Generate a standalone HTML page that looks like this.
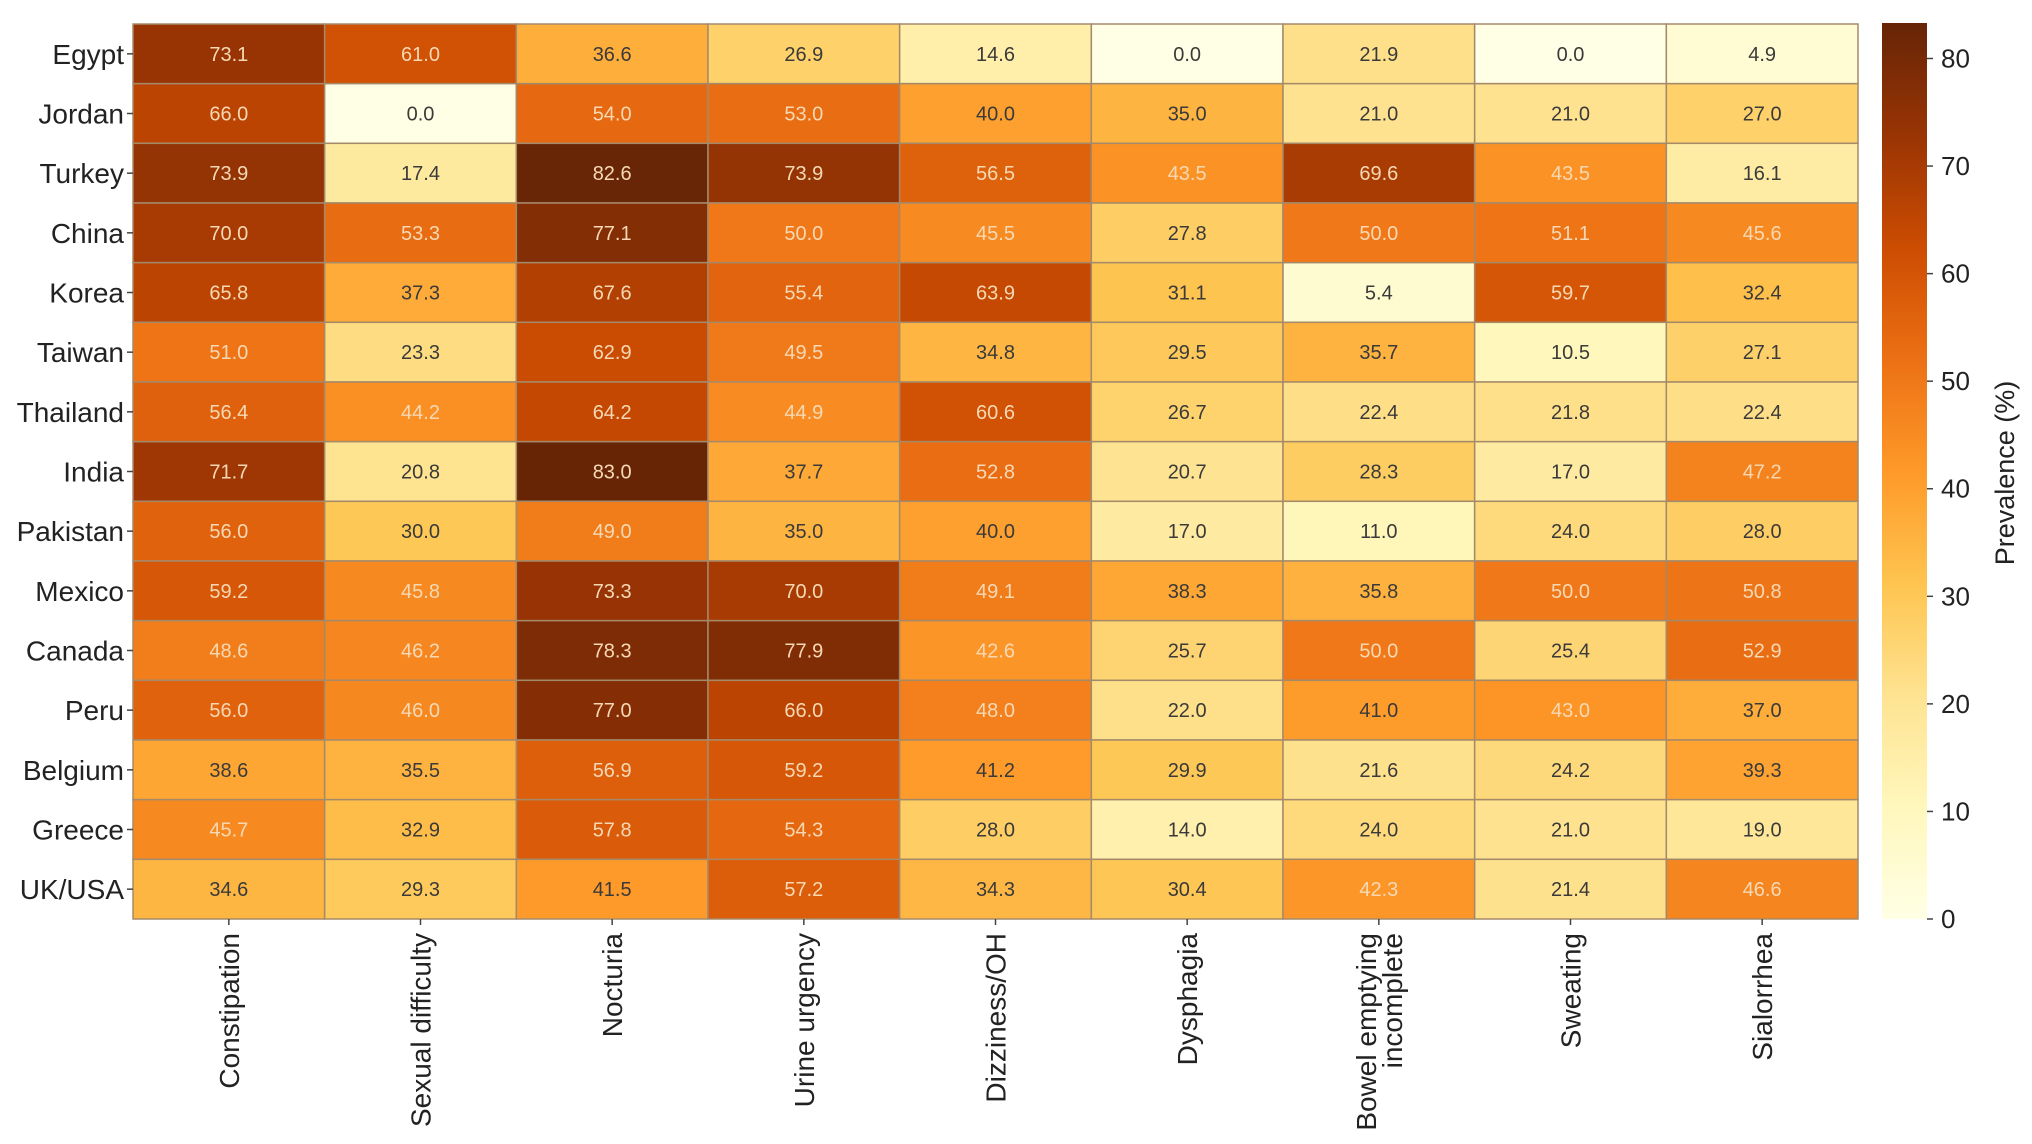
<!DOCTYPE html>
<html><head><meta charset="utf-8"><style>
body{margin:0;background:#fff;}
svg{display:block;font-family:"Liberation Sans",sans-serif;}
</style></head><body>
<svg id="chart" width="2032" height="1144" viewBox="0 0 2032 1144" xmlns="http://www.w3.org/2000/svg">
<defs><linearGradient id="cbg" x1="0" y1="1" x2="0" y2="0"></linearGradient></defs>
<g id="cells"></g>
<g id="ylab"></g>
<g id="xlab"></g>
<g id="cbar"></g>
</svg>
<script>
const countries=["Egypt","Jordan","Turkey","China","Korea","Taiwan","Thailand","India","Pakistan","Mexico","Canada","Peru","Belgium","Greece","UK/USA"];
const symptoms=["Constipation","Sexual difficulty","Nocturia","Urine urgency","Dizziness/OH","Dysphagia","Bowel emptying\nincomplete","Sweating","Sialorrhea"];
const values=[
[73.1,61.0,36.6,26.9,14.6,0.0,21.9,0.0,4.9],
[66.0,0.0,54.0,53.0,40.0,35.0,21.0,21.0,27.0],
[73.9,17.4,82.6,73.9,56.5,43.5,69.6,43.5,16.1],
[70.0,53.3,77.1,50.0,45.5,27.8,50.0,51.1,45.6],
[65.8,37.3,67.6,55.4,63.9,31.1,5.4,59.7,32.4],
[51.0,23.3,62.9,49.5,34.8,29.5,35.7,10.5,27.1],
[56.4,44.2,64.2,44.9,60.6,26.7,22.4,21.8,22.4],
[71.7,20.8,83.0,37.7,52.8,20.7,28.3,17.0,47.2],
[56.0,30.0,49.0,35.0,40.0,17.0,11.0,24.0,28.0],
[59.2,45.8,73.3,70.0,49.1,38.3,35.8,50.0,50.8],
[48.6,46.2,78.3,77.9,42.6,25.7,50.0,25.4,52.9],
[56.0,46.0,77.0,66.0,48.0,22.0,41.0,43.0,37.0],
[38.6,35.5,56.9,59.2,41.2,29.9,21.6,24.2,39.3],
[45.7,32.9,57.8,54.3,28.0,14.0,24.0,21.0,19.0],
[34.6,29.3,41.5,57.2,34.3,30.4,42.3,21.4,46.6]];
const cbTicks=[0,10,20,30,40,50,60,70,80];
const vmin=0,vmax=83.3;
const NS="http://www.w3.org/2000/svg";
const L=133,T=24,R=1858,B=919;
const cw=(R-L)/symptoms.length,ch=(B-T)/countries.length;
const xC=i=>L+cw*(i+0.5), yC=j=>T+ch*(j+0.5);
const stops=["#ffffe5","#fff7bc","#fee391","#fec44f","#fe9929","#ec7014","#cc4c02","#993404","#662506"];
function hex(h){return [1,3,5].map(k=>parseInt(h.substr(k,2),16));}
function color(v){let t=Math.max(0,Math.min(1,(v-vmin)/(vmax-vmin)))*(stops.length-1);let i=Math.min(Math.floor(t),stops.length-2),f=t-i;const a=hex(stops[i]),b=hex(stops[i+1]);return "rgb("+a.map((x,k)=>Math.round(x+(b[k]-x)*f)).join(",")+")";}
function mk(tag,attrs,parent){const e=document.createElementNS(NS,tag);for(const k in attrs)e.setAttribute(k,attrs[k]);parent.appendChild(e);return e;}
const cells=document.getElementById('cells');
values.forEach((row,j)=>row.forEach((v,i)=>{
 const r=mk('rect',{x:L+cw*i,y:T+ch*j,width:cw,height:ch,fill:color(v),stroke:"#a58a6a","stroke-width":1.5},cells);
 
 
 const t=mk('text',{x:xC(i),y:yC(j)+7,"text-anchor":"middle","font-size":20,fill:v>42?"#f6d9b4":"#3a3a3a"},cells);
 t.textContent=v.toFixed(1);
 
 
}));
const ylab=document.getElementById('ylab');
countries.forEach((c,j)=>{
 mk('line',{x1:L-6,x2:L,y1:yC(j),y2:yC(j),stroke:"#444","stroke-width":1.5},ylab);
 const t=mk('text',{x:L-9,y:yC(j)+10,"text-anchor":"end","font-size":28,fill:"#222"},ylab);
 t.textContent=c;
 
 
});
const xlab=document.getElementById('xlab');
symptoms.forEach((s,i)=>{
 mk('line',{x1:xC(i),x2:xC(i),y1:B,y2:B+6,stroke:"#444","stroke-width":1.5},xlab);
 const lines=s.split("\n");
 const t=mk('text',{transform:"translate("+xC(i)+","+(B+14)+") rotate(-90)","text-anchor":"end","font-size":28,fill:"#222"},xlab);
 
 
 lines.forEach((ln,k)=>{const ts=mk('tspan',{x:0,y:(k-(lines.length-1)/2)*26+10},t);ts.textContent=ln;});
});
const g=document.getElementById('cbg');
stops.forEach((c,k)=>mk('stop',{offset:k/(stops.length-1),"stop-color":c},g));
const cbar=document.getElementById('cbar');
const CX=1882,CW=45,CT=23,CB=919;
const cy=v=>CB-(v-vmin)/(vmax-vmin)*(CB-CT);
const cr=mk('rect',{x:CX,y:CT,width:CW,height:CB-CT,fill:"url(#cbg)"},cbar);


cbTicks.forEach(v=>{
 mk('line',{x1:CX+CW,x2:CX+CW+6,y1:cy(v),y2:cy(v),stroke:"#444","stroke-width":1.5},cbar);
 const t=mk('text',{x:CX+CW+14,y:cy(v)+9,"font-size":26,fill:"#222"},cbar);
 t.textContent=v;
 
 
});
const ct=mk('text',{transform:"translate(2014,473) rotate(-90)","text-anchor":"middle","font-size":27,fill:"#222"},cbar);
ct.textContent="Prevalence (%)";


</script>
</body></html>
